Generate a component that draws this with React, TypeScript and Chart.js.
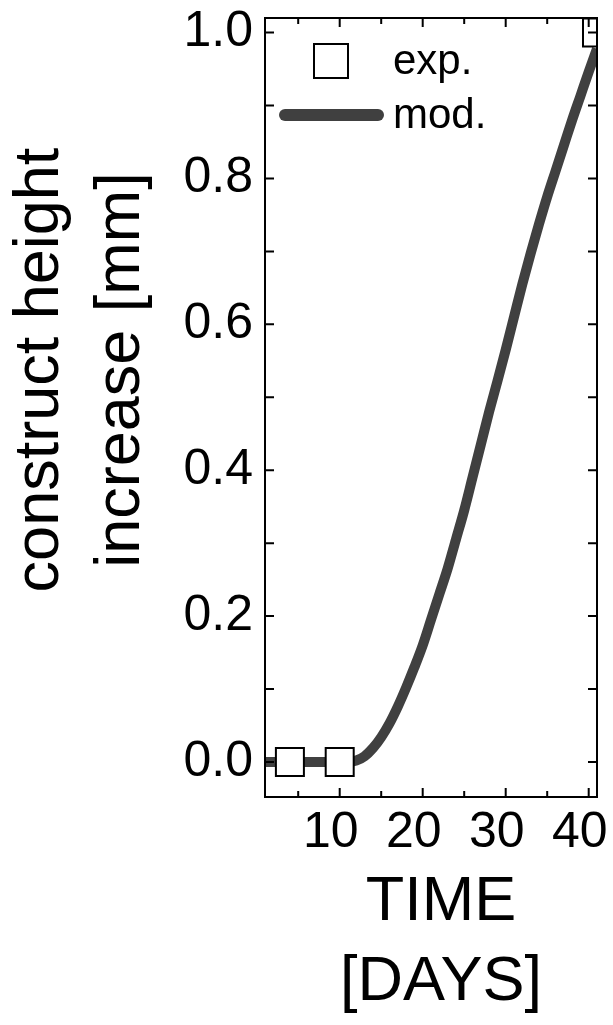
import React, { useEffect, useRef } from "react";
import { Chart, registerables } from "chart.js";

Chart.register(...registerables);

// ---- data ----
const expDays = [4, 10, 41];
const expHeight = [0, 0, 1.0];

const modelDays = [1, 2, 3, 4, 5, 6, 7, 8, 9, 10, 11, 12, 13, 14, 15, 16, 17, 18, 19, 20, 21, 22, 23, 24, 25, 26, 27, 28, 29, 30, 31, 32, 33, 34, 35, 36, 37, 38, 39, 40, 41];
const modelHeight = [0, 0, 0, 0, 0, 0, 0, 0, 0, 0, 0, 0.002, 0.008, 0.019, 0.034, 0.053, 0.076, 0.102, 0.13, 0.16, 0.195, 0.23, 0.265, 0.305, 0.345, 0.39, 0.435, 0.48, 0.522, 0.565, 0.61, 0.655, 0.697, 0.737, 0.775, 0.81, 0.845, 0.88, 0.913, 0.946, 0.978];

const xTickLabels = [10, 20, 30, 40];
const xTickMarks = [5, 10, 15, 20, 25, 30, 35, 40];
const yTickLabels = [0, 0.2, 0.4, 0.6, 0.8, 1.0];
const yTickMarks = [0, 0.1, 0.2, 0.3, 0.4, 0.5, 0.6, 0.7, 0.8, 0.9, 1.0];

const xTitle = ["TIME", "[DAYS]"];
const yTitle = ["construct height", "increase [mm]"];
const legendLabels = ["exp.", "mod."];

const FONT = "'Liberation Sans', Arial, Helvetica, sans-serif";

const framePlugin = {
  id: "frameAndDecor",
  afterDatasetsDraw(chart: any) {
    const { ctx, chartArea, scales } = chart;
    const { left, top, right, bottom } = chartArea;
    const x = scales.x;
    const y = scales.y;
    ctx.save();
    ctx.strokeStyle = "#000";
    ctx.lineWidth = 2;
    ctx.strokeRect(left, top, right - left, bottom - top);
    ctx.beginPath();
    for (const v of xTickMarks) {
      const px = x.getPixelForValue(v);
      const len = v % 10 === 0 ? 9 : 6;
      ctx.moveTo(px, bottom);
      ctx.lineTo(px, bottom - len);
      ctx.moveTo(px, top);
      ctx.lineTo(px, top + len);
    }
    for (const v of yTickMarks) {
      const py = y.getPixelForValue(v);
      ctx.moveTo(left, py);
      ctx.lineTo(left + 9, py);
      ctx.moveTo(right, py);
      ctx.lineTo(right - 9, py);
    }
    ctx.stroke();

    // legend
    const ds0 = chart.data.datasets[0];
    const ds1 = chart.data.datasets[1];
    const sqCx = left + 66;
    const sqCy = top + 43;
    const side = 34;
    ctx.fillStyle = "#fff";
    ctx.fillRect(sqCx - side / 2, sqCy - side / 2, side, side);
    ctx.strokeStyle = ds0.borderColor;
    ctx.lineWidth = 2;
    ctx.strokeRect(sqCx - side / 2, sqCy - side / 2, side, side);
    ctx.beginPath();
    ctx.strokeStyle = ds1.borderColor;
    ctx.lineWidth = 12;
    ctx.lineCap = "round";
    ctx.moveTo(left + 20, top + 97);
    ctx.lineTo(left + 113, top + 97);
    ctx.stroke();
    ctx.fillStyle = "#000";
    ctx.font = `42px ${FONT}`;
    ctx.textAlign = "left";
    ctx.textBaseline = "alphabetic";
    ctx.fillText(legendLabels[0], left + 128, top + 56);
    ctx.fillText(legendLabels[1], left + 128, top + 110);
    ctx.restore();
  },
  afterDraw(chart: any) {
    const { ctx } = chart;
    ctx.save();
    ctx.fillStyle = "#000";
    ctx.font = `63px ${FONT}`;
    ctx.textAlign = "center";
    ctx.textBaseline = "alphabetic";
    // x title
    ctx.fillText(xTitle[0], 441, 920);
    ctx.fillText(xTitle[1], 441, 1000);
    // y title
    const ybase = [58, 139];
    for (let i = 0; i < yTitle.length; i++) {
      ctx.save();
      ctx.translate(ybase[i], 370);
      ctx.rotate(-Math.PI / 2);
      ctx.fillText(yTitle[i], 0, 0);
      ctx.restore();
    }
    ctx.restore();
  },
};

export default function App() {
  const ref = useRef<HTMLCanvasElement>(null);
  useEffect(() => {
    if (!ref.current) return;
    const tickFont = { family: FONT, size: 50 };
    const chart = new Chart(ref.current, {
      type: "scatter",
      data: {
        datasets: [
          {
            label: legendLabels[0],
            data: expDays.map((d, i) => ({ x: d, y: expHeight[i] })),
            pointStyle: "rect",
            pointRadius: 19.8,
            pointHoverRadius: 19.8,
            backgroundColor: "#ffffff",
            borderColor: "#000000",
            borderWidth: 2,
            showLine: false,
            order: 0,
          } as any,
          {
            label: legendLabels[1],
            data: modelDays.map((d, i) => ({ x: d, y: modelHeight[i] })),
            showLine: true,
            pointRadius: 0,
            borderColor: "#404040",
            backgroundColor: "#404040",
            borderWidth: 10,
            cubicInterpolationMode: "monotone",
            order: 1,
          } as any,
        ],
      },
      options: {
        animation: false,
        responsive: true,
        maintainAspectRatio: false,
        layout: { autoPadding: false, padding: { top: 18, right: 16, left: 0, bottom: 0 } },
        plugins: { legend: { display: false }, tooltip: { enabled: false } },
        scales: {
          x: {
            type: "linear",
            position: "bottom",
            min: 1,
            max: 41,
            grid: { display: false, drawTicks: false },
            border: { display: false },
            ticks: { font: tickFont, color: "#000", padding: 6, labelOffset: -9, maxRotation: 0, autoSkip: false },
            afterBuildTicks: (s: any) => {
              s.ticks = xTickLabels.map((v) => ({ value: v }));
            },
            afterFit: (s: any) => {
              s.height = 228;
              s.paddingLeft = 0;
              s.paddingRight = 0;
            },
          },
          y: {
            type: "linear",
            position: "left",
            min: -0.048,
            max: 1.02,
            grid: { display: false, drawTicks: false },
            border: { display: false },
            ticks: {
              font: tickFont,
              color: "#000",
              padding: 12,
              autoSkip: false,
              callback: (v: any) => Number(v).toFixed(1),
            },
            afterBuildTicks: (s: any) => {
              s.ticks = yTickLabels.map((v) => ({ value: v }));
            },
            afterFit: (s: any) => {
              s.width = 265;
              s.paddingTop = 0;
              s.paddingBottom = 0;
            },
          },
        },
      } as any,
      plugins: [framePlugin],
    });
    return () => chart.destroy();
  }, []);
  return (
    <div style={{ position: "absolute", left: 0, top: 0, width: 613, height: 1025, background: "#fff" }}>
      <canvas ref={ref} />
    </div>
  );
}
